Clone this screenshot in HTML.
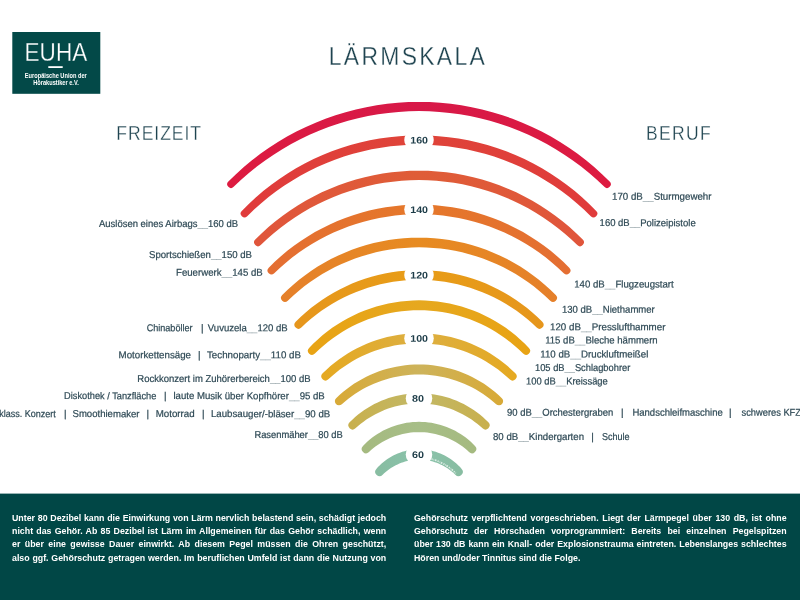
<!DOCTYPE html>
<html lang="de"><head><meta charset="utf-8"><title>Lärmskala</title>
<style>
html,body{margin:0;padding:0;background:#fff;}
body{width:800px;height:600px;overflow:hidden;position:relative;font-family:"Liberation Sans",sans-serif;}
svg{position:absolute;left:0;top:0;display:block;}
svg text{font-family:"Liberation Sans",sans-serif;}
.lb{font-size:10.0px;fill:#2E4955;stroke:#2E4955;stroke-width:0.22px;}
.num{font-size:9.6px;font-weight:bold;fill:#1D3C48;text-anchor:middle;}
.hd{fill:#1F4450;}
.para{position:absolute;top:510.9px;color:#fff;font-weight:bold;font-size:9.8px;line-height:13.25px;transform-origin:0 0;white-space:nowrap;}
.para div{text-align:justify;text-align-last:justify;}
.para div.last{text-align-last:left;}
</style></head><body>
<svg width="800" height="600" viewBox="0 0 800 600">
<defs>
<linearGradient id="g0" gradientUnits="userSpaceOnUse" x1="231.0" y1="184.2" x2="607.0" y2="184.2"><stop offset="0" stop-color="#DD1B40"/><stop offset="0.5" stop-color="#D71848"/><stop offset="1" stop-color="#DD1B40"/></linearGradient>
<linearGradient id="g1" gradientUnits="userSpaceOnUse" x1="244.5" y1="213.6" x2="593.5" y2="213.6"><stop offset="0" stop-color="#E03B3B"/><stop offset="0.5" stop-color="#DF4439"/><stop offset="1" stop-color="#E03B3B"/></linearGradient>
<linearGradient id="g2" gradientUnits="userSpaceOnUse" x1="258.0" y1="242.3" x2="580.0" y2="242.3"><stop offset="0" stop-color="#E0553B"/><stop offset="0.5" stop-color="#DF5D37"/><stop offset="1" stop-color="#E0553B"/></linearGradient>
<linearGradient id="g3" gradientUnits="userSpaceOnUse" x1="271.5" y1="270.4" x2="566.5" y2="270.4"><stop offset="0" stop-color="#E46E32"/><stop offset="0.5" stop-color="#E5782A"/><stop offset="1" stop-color="#E46E32"/></linearGradient>
<linearGradient id="g4" gradientUnits="userSpaceOnUse" x1="285.0" y1="297.9" x2="553.0" y2="297.9"><stop offset="0" stop-color="#E5802A"/><stop offset="0.5" stop-color="#E78B21"/><stop offset="1" stop-color="#E5802A"/></linearGradient>
<linearGradient id="g5" gradientUnits="userSpaceOnUse" x1="298.5" y1="324.7" x2="539.5" y2="324.7"><stop offset="0" stop-color="#E6961C"/><stop offset="0.5" stop-color="#E89D17"/><stop offset="1" stop-color="#E6961C"/></linearGradient>
<linearGradient id="g6" gradientUnits="userSpaceOnUse" x1="312.0" y1="350.8" x2="526.0" y2="350.8"><stop offset="0" stop-color="#E8A314"/><stop offset="0.5" stop-color="#E6A81F"/><stop offset="1" stop-color="#E8A314"/></linearGradient>
<linearGradient id="g7" gradientUnits="userSpaceOnUse" x1="325.5" y1="376.3" x2="512.5" y2="376.3"><stop offset="0" stop-color="#E5A922"/><stop offset="0.5" stop-color="#DCAF42"/><stop offset="1" stop-color="#E5A922"/></linearGradient>
<linearGradient id="g8" gradientUnits="userSpaceOnUse" x1="339.0" y1="401.2" x2="499.0" y2="401.2"><stop offset="0" stop-color="#D8AA38"/><stop offset="0.5" stop-color="#CDB35B"/><stop offset="1" stop-color="#D8AA38"/></linearGradient>
<linearGradient id="g9" gradientUnits="userSpaceOnUse" x1="352.5" y1="425.4" x2="485.5" y2="425.4"><stop offset="0" stop-color="#C8B04E"/><stop offset="0.5" stop-color="#C2B866"/><stop offset="1" stop-color="#C8B04E"/></linearGradient>
<linearGradient id="g10" gradientUnits="userSpaceOnUse" x1="366.0" y1="448.9" x2="472.0" y2="448.9"><stop offset="0" stop-color="#A5BA80"/><stop offset="0.5" stop-color="#A7BE88"/><stop offset="1" stop-color="#A5BA80"/></linearGradient>
<linearGradient id="g11" gradientUnits="userSpaceOnUse" x1="379.5" y1="471.8" x2="458.5" y2="471.8"><stop offset="0" stop-color="#88BDA2"/><stop offset="0.5" stop-color="#8AC3AB"/><stop offset="1" stop-color="#88BDA2"/></linearGradient>
</defs>
<rect x="0" y="493.6" width="800" height="106.4" fill="#014746"/>
<path d="M228.35 181.53L235.94 174.15L243.81 167.07L251.96 160.30L260.37 153.87L269.03 147.77L277.93 142.01L287.06 136.61L296.39 131.58L305.91 126.91L315.62 122.63L325.48 118.74L335.50 115.23L345.64 112.13L355.91 109.43L366.27 107.14L376.71 105.25L387.23 103.79L397.79 102.74L408.39 102.11L419.00 101.90L429.61 102.11L440.21 102.74L450.77 103.79L461.29 105.25L471.73 107.14L482.09 109.43L492.36 112.13L502.50 115.23L512.52 118.74L522.38 122.63L532.09 126.91L541.61 131.58L550.94 136.61L560.07 142.01L568.97 147.77L577.63 153.87L586.04 160.30L594.19 167.07L602.06 174.15L609.65 181.53A3.75 3.75 0 0 1 604.35 186.84L596.87 179.78L589.12 173.02L581.11 166.57L572.87 160.44L564.39 154.63L555.70 149.15L546.81 144.02L537.72 139.23L528.46 134.81L519.03 130.74L509.46 127.05L499.75 123.73L489.92 120.78L479.99 118.23L469.96 116.06L459.86 114.27L449.70 112.89L439.49 111.89L429.25 111.30L419.00 111.10L408.75 111.30L398.51 111.89L388.30 112.89L378.14 114.27L368.04 116.06L358.01 118.23L348.08 120.78L338.25 123.73L328.54 127.05L318.97 130.74L309.54 134.81L300.28 139.23L291.19 144.02L282.30 149.15L273.61 154.63L265.13 160.44L256.89 166.57L248.88 173.02L241.13 179.78L233.65 186.84A3.75 3.75 0 0 1 228.35 181.53Z" fill="url(#g0)"/>
<path d="M241.78 210.92L248.76 203.93L256.01 197.22L263.53 190.81L271.31 184.71L279.33 178.92L287.58 173.46L296.04 168.33L304.71 163.55L313.56 159.12L322.59 155.05L331.77 151.35L341.10 148.02L350.55 145.07L360.12 142.50L369.79 140.32L379.53 138.54L389.34 137.14L399.20 136.14L409.09 135.55L419.00 135.35L428.91 135.55L438.80 136.14L448.66 137.14L458.47 138.54L468.21 140.32L477.88 142.50L487.45 145.07L496.90 148.02L506.23 151.35L515.41 155.05L524.44 159.12L533.29 163.55L541.96 168.33L550.42 173.46L558.67 178.92L566.69 184.71L574.47 190.81L581.99 197.22L589.24 203.93L596.22 210.92A3.80 3.80 0 0 1 590.78 216.23L583.90 209.57L576.77 203.19L569.40 197.10L561.79 191.30L553.97 185.82L545.93 180.64L537.70 175.79L529.29 171.27L520.70 167.08L511.96 163.24L503.08 159.74L494.07 156.60L484.94 153.82L475.71 151.40L466.39 149.34L457.00 147.66L447.55 146.35L438.06 145.41L428.54 144.84L419.00 144.65L409.46 144.84L399.94 145.41L390.45 146.35L381.00 147.66L371.61 149.34L362.29 151.40L353.06 153.82L343.93 156.60L334.92 159.74L326.04 163.24L317.30 167.08L308.71 171.27L300.30 175.79L292.07 180.64L284.03 185.82L276.21 191.30L268.60 197.10L261.23 203.19L254.10 209.57L247.22 216.23A3.80 3.80 0 0 1 241.78 210.92Z" fill="url(#g1)"/>
<rect x="404.25" y="131.50" width="29.50" height="17" rx="7" ry="8.5" fill="#fff"/>
<text class="num" transform="translate(419.10 143.50) rotate(0.04)" textLength="17.8" lengthAdjust="spacingAndGlyphs">160</text>
<path d="M255.27 239.60L261.76 233.22L268.50 227.10L275.47 221.25L282.68 215.68L290.11 210.40L297.74 205.42L305.57 200.75L313.58 196.39L321.76 192.35L330.10 188.65L338.58 185.27L347.18 182.24L355.91 179.55L364.73 177.21L373.64 175.23L382.63 173.60L391.67 172.33L400.75 171.42L409.87 170.87L419.00 170.69L428.13 170.87L437.25 171.42L446.33 172.33L455.37 173.60L464.36 175.23L473.27 177.21L482.09 179.55L490.82 182.24L499.42 185.27L507.90 188.65L516.24 192.35L524.42 196.39L532.43 200.75L540.26 205.42L547.89 210.40L555.32 215.68L562.53 221.25L569.50 227.10L576.24 233.22L582.73 239.60A3.85 3.85 0 0 1 577.27 245.04L570.89 238.99L564.28 233.19L557.45 227.66L550.41 222.40L543.18 217.42L535.76 212.73L528.17 208.33L520.41 204.23L512.50 200.43L504.45 196.95L496.28 193.78L487.98 190.93L479.59 188.41L471.10 186.22L462.54 184.36L453.91 182.83L445.23 181.64L436.51 180.79L427.76 180.28L419.00 180.11L410.24 180.28L401.49 180.79L392.77 181.64L384.09 182.83L375.46 184.36L366.90 186.22L358.41 188.41L350.02 190.93L341.72 193.78L333.55 196.95L325.50 200.43L317.59 204.23L309.83 208.33L302.24 212.73L294.82 217.42L287.59 222.40L280.55 227.66L273.72 233.19L267.11 238.99L260.73 245.04A3.85 3.85 0 0 1 255.27 239.60Z" fill="url(#g2)"/>
<path d="M268.74 267.65L274.71 261.82L280.90 256.22L287.31 250.87L293.93 245.78L300.75 240.95L307.76 236.39L314.94 232.12L322.30 228.14L329.80 224.44L337.45 221.05L345.23 217.97L353.13 215.20L361.13 212.74L369.22 210.60L377.40 208.78L385.64 207.29L393.93 206.13L402.27 205.30L410.63 204.80L419.00 204.64L427.37 204.80L435.73 205.30L444.07 206.13L452.36 207.29L460.60 208.78L468.78 210.60L476.87 212.74L484.87 215.20L492.77 217.97L500.55 221.05L508.20 224.44L515.70 228.14L523.06 232.12L530.24 236.39L537.25 240.95L544.07 245.78L550.69 250.87L557.10 256.22L563.29 261.82L569.26 267.65A3.90 3.90 0 0 1 563.74 273.18L557.89 267.67L551.83 262.40L545.57 257.37L539.13 252.59L532.50 248.06L525.71 243.80L518.76 239.80L511.67 236.07L504.43 232.62L497.07 229.46L489.60 226.58L482.02 223.99L474.35 221.70L466.59 219.71L458.77 218.02L450.88 216.64L442.95 215.56L434.99 214.78L427.00 214.32L419.00 214.16L411.00 214.32L403.01 214.78L395.05 215.56L387.12 216.64L379.23 218.02L371.41 219.71L363.65 221.70L355.98 223.99L348.40 226.58L340.93 229.46L333.57 232.62L326.33 236.07L319.24 239.80L312.29 243.80L305.50 248.06L298.87 252.59L292.43 257.37L286.17 262.40L280.11 267.67L274.26 273.18A3.90 3.90 0 0 1 268.74 267.65Z" fill="url(#g3)"/>
<rect x="404.25" y="200.90" width="29.50" height="17" rx="7" ry="8.5" fill="#fff"/>
<text class="num" transform="translate(419.10 212.90) rotate(0.04)" textLength="17.8" lengthAdjust="spacingAndGlyphs">140</text>
<path d="M282.21 295.06L287.64 289.75L293.27 284.65L299.11 279.78L305.13 275.14L311.34 270.75L317.72 266.60L324.26 262.71L330.95 259.08L337.79 255.72L344.75 252.63L351.83 249.82L359.02 247.30L366.31 245.06L373.68 243.11L381.12 241.46L388.62 240.10L396.17 239.04L403.76 238.29L411.38 237.83L419.00 237.68L426.62 237.83L434.24 238.29L441.83 239.04L449.38 240.10L456.88 241.46L464.32 243.11L471.69 245.06L478.98 247.30L486.17 249.82L493.25 252.63L500.21 255.72L507.05 259.08L513.74 262.71L520.28 266.60L526.66 270.75L532.87 275.14L538.89 279.78L544.73 284.65L550.36 289.75L555.79 295.06A3.95 3.95 0 0 1 550.21 300.66L544.90 295.68L539.39 290.92L533.71 286.37L527.87 282.05L521.86 277.95L515.70 274.10L509.40 270.48L502.96 267.12L496.41 264.00L489.74 261.14L482.96 258.54L476.09 256.20L469.14 254.13L462.11 252.33L455.03 250.80L447.88 249.55L440.70 248.58L433.48 247.88L426.25 247.46L419.00 247.32L411.75 247.46L404.52 247.88L397.30 248.58L390.12 249.55L382.97 250.80L375.89 252.33L368.86 254.13L361.91 256.20L355.04 258.54L348.26 261.14L341.59 264.00L335.04 267.12L328.60 270.48L322.30 274.10L316.14 277.95L310.13 282.05L304.29 286.37L298.61 290.92L293.10 295.68L287.79 300.66A3.95 3.95 0 0 1 282.21 295.06Z" fill="url(#g4)"/>
<path d="M295.68 321.82L300.57 317.03L305.65 312.44L310.91 308.05L316.34 303.88L321.94 299.92L327.69 296.18L333.59 292.68L339.62 289.41L345.78 286.38L352.06 283.60L358.45 281.07L364.93 278.79L371.50 276.77L378.14 275.02L384.85 273.53L391.61 272.31L398.42 271.35L405.26 270.67L412.13 270.26L419.00 270.13L425.87 270.26L432.74 270.67L439.58 271.35L446.39 272.31L453.15 273.53L459.86 275.02L466.50 276.77L473.07 278.79L479.55 281.07L485.94 283.60L492.22 286.38L498.38 289.41L504.41 292.68L510.31 296.18L516.06 299.92L521.66 303.88L527.09 308.05L532.35 312.44L537.43 317.03L542.32 321.82A4.00 4.00 0 0 1 536.68 327.50L531.90 323.05L526.96 318.79L521.86 314.73L516.60 310.87L511.21 307.22L505.68 303.77L500.03 300.55L494.26 297.54L488.37 294.76L482.39 292.20L476.32 289.88L470.16 287.80L463.93 285.95L457.63 284.35L451.28 282.98L444.88 281.87L438.44 280.99L431.98 280.37L425.49 280.00L419.00 279.87L412.51 280.00L406.02 280.37L399.56 280.99L393.12 281.87L386.72 282.98L380.37 284.35L374.07 285.95L367.84 287.80L361.68 289.88L355.61 292.20L349.63 294.76L343.74 297.54L337.97 300.55L332.32 303.77L326.79 307.22L321.40 310.87L316.14 314.73L311.04 318.79L306.10 323.05L301.32 327.50A4.00 4.00 0 0 1 295.68 321.82Z" fill="url(#g5)"/>
<rect x="404.25" y="266.50" width="29.50" height="17" rx="7" ry="8.5" fill="#fff"/>
<text class="num" transform="translate(419.10 278.50) rotate(0.04)" textLength="17.8" lengthAdjust="spacingAndGlyphs">120</text>
<path d="M309.08 348.00L313.37 343.60L317.83 339.39L322.47 335.35L327.26 331.51L332.22 327.86L337.32 324.42L342.56 321.19L347.93 318.18L353.42 315.38L359.02 312.82L364.72 310.48L370.52 308.38L376.40 306.52L382.35 304.89L388.36 303.52L394.43 302.39L400.53 301.51L406.67 300.88L412.83 300.50L419.00 300.37L425.17 300.50L431.33 300.88L437.47 301.51L443.57 302.39L449.64 303.52L455.65 304.89L461.60 306.52L467.48 308.38L473.28 310.48L478.98 312.82L484.58 315.38L490.07 318.18L495.44 321.19L500.68 324.42L505.78 327.86L510.74 331.51L515.53 335.35L520.17 339.39L524.63 343.60L528.92 348.00A4.05 4.05 0 0 1 523.08 353.62L518.91 349.58L514.58 345.70L510.11 342.01L505.50 338.49L500.75 335.17L495.88 332.03L490.89 329.09L485.79 326.35L480.59 323.81L475.30 321.48L469.91 319.36L464.45 317.46L458.93 315.78L453.34 314.31L447.69 313.07L442.01 312.05L436.29 311.25L430.54 310.68L424.77 310.34L419.00 310.23L413.23 310.34L407.46 310.68L401.71 311.25L395.99 312.05L390.31 313.07L384.66 314.31L379.07 315.78L373.55 317.46L368.09 319.36L362.70 321.48L357.41 323.81L352.21 326.35L347.11 329.09L342.12 332.03L337.25 335.17L332.50 338.49L327.89 342.01L323.42 345.70L319.09 349.58L314.92 353.62A4.05 4.05 0 0 1 309.08 348.00Z" fill="url(#g6)"/>
<path d="M322.64 373.37L326.47 369.66L330.45 366.10L334.57 362.70L338.82 359.47L343.20 356.40L347.70 353.50L352.31 350.79L357.02 348.26L361.84 345.91L366.74 343.75L371.73 341.79L376.79 340.03L381.92 338.47L387.11 337.11L392.34 335.95L397.62 335.01L402.94 334.27L408.28 333.74L413.63 333.42L419.00 333.32L424.37 333.42L429.72 333.74L435.06 334.27L440.38 335.01L445.66 335.95L450.89 337.11L456.08 338.47L461.21 340.03L466.27 341.79L471.26 343.75L476.16 345.91L480.98 348.26L485.69 350.79L490.30 353.50L494.80 356.40L499.18 359.47L503.43 362.70L507.55 366.10L511.53 369.66L515.36 373.37A4.10 4.10 0 0 1 509.64 379.25L505.92 375.88L502.08 372.66L498.13 369.59L494.06 366.67L489.89 363.91L485.62 361.31L481.26 358.87L476.81 356.60L472.28 354.50L467.67 352.58L463.00 350.83L458.27 349.25L453.48 347.86L448.64 346.65L443.76 345.62L438.85 344.78L433.91 344.13L428.95 343.66L423.98 343.38L419.00 343.28L414.02 343.38L409.05 343.66L404.09 344.13L399.15 344.78L394.24 345.62L389.36 346.65L384.52 347.86L379.73 349.25L375.00 350.83L370.33 352.58L365.72 354.50L361.19 356.60L356.74 358.87L352.38 361.31L348.11 363.91L343.94 366.67L339.87 369.59L335.92 372.66L332.08 375.88L328.36 379.25A4.10 4.10 0 0 1 322.64 373.37Z" fill="url(#g7)"/>
<rect x="404.25" y="329.80" width="29.50" height="17" rx="7" ry="8.5" fill="#fff"/>
<text class="num" transform="translate(419.10 341.80) rotate(0.04)" textLength="17.8" lengthAdjust="spacingAndGlyphs">100</text>
<path d="M336.16 398.13L339.49 395.01L342.94 392.02L346.50 389.15L350.17 386.43L353.95 383.85L357.83 381.42L361.80 379.14L365.86 377.01L370.00 375.04L374.21 373.23L378.49 371.58L382.84 370.10L387.23 368.79L391.68 367.65L396.17 366.68L400.69 365.88L405.25 365.26L409.82 364.82L414.41 364.55L419.00 364.46L423.59 364.55L428.18 364.82L432.75 365.26L437.31 365.88L441.83 366.68L446.32 367.65L450.77 368.79L455.16 370.10L459.51 371.58L463.79 373.23L468.00 375.04L472.14 377.01L476.20 379.14L480.17 381.42L484.05 383.85L487.83 386.43L491.50 389.15L495.06 392.02L498.51 395.01L501.84 398.13A4.15 4.15 0 0 1 496.16 404.19L492.95 401.40L489.64 398.74L486.25 396.20L482.76 393.79L479.19 391.52L475.54 389.37L471.81 387.36L468.02 385.49L464.16 383.77L460.25 382.18L456.28 380.74L452.26 379.45L448.20 378.30L444.10 377.31L439.96 376.46L435.80 375.77L431.62 375.23L427.42 374.85L423.21 374.61L419.00 374.54L414.79 374.61L410.58 374.85L406.38 375.23L402.20 375.77L398.04 376.46L393.90 377.31L389.80 378.30L385.74 379.45L381.72 380.74L377.75 382.18L373.84 383.77L369.98 385.49L366.19 387.36L362.46 389.37L358.81 391.52L355.24 393.79L351.75 396.20L348.36 398.74L345.05 401.40L341.84 404.19A4.15 4.15 0 0 1 336.16 398.13Z" fill="url(#g8)"/>
<path d="M349.57 422.36L352.31 419.66L355.16 417.08L358.12 414.61L361.17 412.25L364.32 410.02L367.55 407.92L370.87 405.94L374.26 404.09L377.73 402.39L381.27 400.82L384.86 399.39L388.52 398.10L392.22 396.96L395.96 395.97L399.74 395.13L403.56 394.44L407.40 393.90L411.25 393.52L415.12 393.29L419.00 393.21L422.88 393.29L426.75 393.52L430.60 393.90L434.44 394.44L438.26 395.13L442.04 395.97L445.78 396.96L449.48 398.10L453.14 399.39L456.73 400.82L460.27 402.39L463.74 404.09L467.13 405.94L470.45 407.92L473.68 410.02L476.83 412.25L479.88 414.61L482.84 417.08L485.69 419.66L488.43 422.36A4.20 4.20 0 0 1 482.57 428.37L479.94 426.03L477.24 423.79L474.45 421.65L471.59 419.62L468.66 417.70L465.66 415.89L462.59 414.20L459.47 412.63L456.29 411.17L453.06 409.83L449.79 408.62L446.47 407.53L443.12 406.56L439.74 405.73L436.32 405.01L432.89 404.43L429.43 403.98L425.96 403.65L422.48 403.46L419.00 403.39L415.52 403.46L412.04 403.65L408.57 403.98L405.11 404.43L401.68 405.01L398.26 405.73L394.88 406.56L391.53 407.53L388.21 408.62L384.94 409.83L381.71 411.17L378.53 412.63L375.41 414.20L372.34 415.89L369.34 417.70L366.41 419.62L363.55 421.65L360.76 423.79L358.06 426.03L355.43 428.37A4.20 4.20 0 0 1 349.57 422.36Z" fill="url(#g9)"/>
<rect x="405.75" y="389.80" width="26.50" height="17" rx="7" ry="8.5" fill="#fff"/>
<text class="num" transform="translate(418.10 401.80) rotate(0.04)" textLength="12.0" lengthAdjust="spacingAndGlyphs">80</text>
<path d="M363.00 445.91L365.18 443.69L367.46 441.56L369.82 439.53L372.26 437.59L374.79 435.75L377.39 434.01L380.06 432.38L382.79 430.86L385.59 429.45L388.44 428.15L391.35 426.97L394.30 425.90L397.30 424.96L400.33 424.14L403.39 423.45L406.48 422.87L409.59 422.43L412.72 422.11L415.86 421.92L419.00 421.85L422.14 421.92L425.28 422.11L428.41 422.43L431.52 422.87L434.61 423.45L437.67 424.14L440.70 424.96L443.70 425.90L446.65 426.97L449.56 428.15L452.41 429.45L455.21 430.86L457.94 432.38L460.61 434.01L463.21 435.75L465.74 437.59L468.18 439.53L470.54 441.56L472.82 443.69L475.00 445.91A4.25 4.25 0 0 1 469.00 451.93L466.94 450.07L464.81 448.29L462.62 446.60L460.37 444.99L458.06 443.47L455.70 442.04L453.29 440.70L450.83 439.45L448.34 438.30L445.80 437.24L443.22 436.28L440.61 435.42L437.97 434.66L435.31 433.99L432.63 433.43L429.92 432.97L427.21 432.61L424.48 432.35L421.74 432.20L419.00 432.15L416.26 432.20L413.52 432.35L410.79 432.61L408.08 432.97L405.37 433.43L402.69 433.99L400.03 434.66L397.39 435.42L394.78 436.28L392.20 437.24L389.66 438.30L387.17 439.45L384.71 440.70L382.30 442.04L379.94 443.47L377.63 444.99L375.38 446.60L373.19 448.29L371.06 450.07L369.00 451.93A4.25 4.25 0 0 1 363.00 445.91Z" fill="url(#g10)"/>
<path d="M376.34 468.91L377.93 467.12L379.61 465.40L381.36 463.75L383.18 462.17L385.08 460.67L387.03 459.26L389.05 457.93L391.13 456.68L393.26 455.53L395.44 454.47L397.66 453.50L399.93 452.63L402.23 451.85L404.56 451.18L406.93 450.61L409.31 450.14L411.72 449.77L414.14 449.51L416.57 449.35L419.00 449.30L421.43 449.35L423.86 449.51L426.28 449.77L428.69 450.14L431.07 450.61L433.44 451.18L435.77 451.85L438.07 452.63L440.34 453.50L442.56 454.47L444.74 455.53L446.87 456.68L448.95 457.93L450.97 459.26L452.92 460.67L454.82 462.17L456.64 463.75L458.39 465.40L460.07 467.12L461.66 468.91A4.30 4.30 0 0 1 455.34 474.74L453.86 473.33L452.33 471.98L450.76 470.69L449.14 469.47L447.47 468.31L445.76 467.23L444.02 466.21L442.23 465.26L440.42 464.38L438.57 463.58L436.69 462.85L434.79 462.19L432.87 461.61L430.92 461.11L428.96 460.68L426.99 460.33L425.00 460.05L423.00 459.86L421.00 459.74L419.00 459.70L417.00 459.74L415.00 459.86L413.00 460.05L411.01 460.33L409.04 460.68L407.08 461.11L405.13 461.61L403.21 462.19L401.31 462.85L399.43 463.58L397.58 464.38L395.77 465.26L393.98 466.21L392.24 467.23L390.53 468.31L388.86 469.47L387.24 470.69L385.67 471.98L384.14 473.33L382.66 474.74A4.30 4.30 0 0 1 376.34 468.91Z" fill="url(#g11)"/>
<path d="M431.44 459.05 A50.69 50.69 0 0 1 455.72 473.24" fill="none" stroke="#fff" stroke-opacity="0.7" stroke-width="1.7" stroke-dasharray="1.3 0.9 0.6 0.7 1.8 1.1"/>
<rect x="405.75" y="446.00" width="26.50" height="17" rx="7" ry="8.5" fill="#fff"/>
<text class="num" transform="translate(418.10 458.00) rotate(0.04)" textLength="12.0" lengthAdjust="spacingAndGlyphs">60</text>
<rect x="12.3" y="32" width="88" height="61.8" fill="#034948"/>
<text x="24.6" y="60.8" font-size="25" fill="#fff" textLength="62.6" lengthAdjust="spacingAndGlyphs" stroke="#034948" stroke-width="0.3">EUHA</text>
<rect x="48.3" y="66.2" width="14.4" height="1.8" fill="#fff"/>
<text x="55.8" y="77.7" font-size="6.8" font-weight="bold" fill="#fff" text-anchor="middle" textLength="62" lengthAdjust="spacingAndGlyphs">Europäische Union der</text>
<text x="56" y="84.6" font-size="6.8" font-weight="bold" fill="#fff" text-anchor="middle" textLength="45.5" lengthAdjust="spacingAndGlyphs">Hörakustiker e.V.</text>
<text class="hd" transform="translate(328.80 65.40) scale(0.900 1)" font-size="25.5" textLength="173.3" lengthAdjust="spacing" stroke="#fff" stroke-width="0.30">LÄRMSKALA</text>
<text class="hd" transform="translate(116.30 140.10) scale(0.900 1)" font-size="19.5" textLength="94.2" lengthAdjust="spacing" stroke="#fff" stroke-width="0.30">FREIZEIT</text>
<text class="hd" transform="translate(646.10 140.10) scale(0.900 1)" font-size="19.5" textLength="71.8" lengthAdjust="spacing" stroke="#fff" stroke-width="0.30">BERUF</text>
<text class="lb" transform="translate(99.0 226.9) rotate(0.04)" textLength="139.0" lengthAdjust="spacingAndGlyphs">Auslösen eines Airbags<tspan fill-opacity="0.45" stroke="none">__</tspan>160 dB</text>
<text class="lb" transform="translate(149.0 257.9) rotate(0.04)" textLength="103.0" lengthAdjust="spacingAndGlyphs">Sportschießen<tspan fill-opacity="0.45" stroke="none">__</tspan>150 dB</text>
<text class="lb" transform="translate(176.0 275.7) rotate(0.04)" textLength="86.8" lengthAdjust="spacingAndGlyphs">Feuerwerk<tspan fill-opacity="0.45" stroke="none">__</tspan>145 dB</text>
<text class="lb" transform="translate(146.7 331.2) rotate(0.04)" textLength="45.8" lengthAdjust="spacingAndGlyphs">Chinaböller</text>
<text class="lb" transform="translate(202.2 331.2) rotate(0.04)" text-anchor="middle">|</text>
<text class="lb" transform="translate(207.8 331.2) rotate(0.04)" textLength="79.9" lengthAdjust="spacingAndGlyphs">Vuvuzela<tspan fill-opacity="0.45" stroke="none">__</tspan>120 dB</text>
<text class="lb" transform="translate(118.6 358.2) rotate(0.04)" textLength="72.4" lengthAdjust="spacingAndGlyphs">Motorkettensäge</text>
<text class="lb" transform="translate(199.3 358.2) rotate(0.04)" text-anchor="middle">|</text>
<text class="lb" transform="translate(207.0 358.2) rotate(0.04)" textLength="94.0" lengthAdjust="spacingAndGlyphs">Technoparty<tspan fill-opacity="0.45" stroke="none">__</tspan>110 dB</text>
<text class="lb" transform="translate(137.3 382.0) rotate(0.04)" textLength="173.3" lengthAdjust="spacingAndGlyphs">Rockkonzert im Zuhörerbereich<tspan fill-opacity="0.45" stroke="none">__</tspan>100 dB</text>
<text class="lb" transform="translate(64.1 399.1) rotate(0.04)" textLength="92.3" lengthAdjust="spacingAndGlyphs">Diskothek / Tanzfläche</text>
<text class="lb" transform="translate(165.4 399.1) rotate(0.04)" text-anchor="middle">|</text>
<text class="lb" transform="translate(173.4 399.1) rotate(0.04)" textLength="151.4" lengthAdjust="spacingAndGlyphs">laute Musik über Kopfhörer<tspan fill-opacity="0.45" stroke="none">__</tspan>95 dB</text>
<text class="lb" transform="translate(-0.8 417.1) rotate(0.04)" textLength="56.6" lengthAdjust="spacingAndGlyphs">klass. Konzert</text>
<text class="lb" transform="translate(65.2 417.1) rotate(0.04)" text-anchor="middle">|</text>
<text class="lb" transform="translate(72.5 417.1) rotate(0.04)" textLength="67.0" lengthAdjust="spacingAndGlyphs">Smoothiemaker</text>
<text class="lb" transform="translate(147.8 417.1) rotate(0.04)" text-anchor="middle">|</text>
<text class="lb" transform="translate(155.7 417.1) rotate(0.04)" textLength="39.0" lengthAdjust="spacingAndGlyphs">Motorrad</text>
<text class="lb" transform="translate(203.3 417.1) rotate(0.04)" text-anchor="middle">|</text>
<text class="lb" transform="translate(211.0 417.1) rotate(0.04)" textLength="119.2" lengthAdjust="spacingAndGlyphs">Laubsauger/-bläser<tspan fill-opacity="0.45" stroke="none">__</tspan>90 dB</text>
<text class="lb" transform="translate(254.4 438.0) rotate(0.04)" textLength="88.4" lengthAdjust="spacingAndGlyphs">Rasenmäher<tspan fill-opacity="0.45" stroke="none">__</tspan>80 dB</text>
<text class="lb" transform="translate(612.0 199.8) rotate(0.04)" textLength="99.5" lengthAdjust="spacingAndGlyphs">170 dB<tspan fill-opacity="0.45" stroke="none">__</tspan>Sturmgewehr</text>
<text class="lb" transform="translate(599.6 226.1) rotate(0.04)" textLength="96.1" lengthAdjust="spacingAndGlyphs">160 dB<tspan fill-opacity="0.45" stroke="none">__</tspan>Polizeipistole</text>
<text class="lb" transform="translate(574.2 287.5) rotate(0.04)" textLength="99.5" lengthAdjust="spacingAndGlyphs">140 dB<tspan fill-opacity="0.45" stroke="none">__</tspan>Flugzeugstart</text>
<text class="lb" transform="translate(561.9 312.8) rotate(0.04)" textLength="92.9" lengthAdjust="spacingAndGlyphs">130 dB<tspan fill-opacity="0.45" stroke="none">__</tspan>Niethammer</text>
<text class="lb" transform="translate(550.0 330.3) rotate(0.04)" textLength="115.4" lengthAdjust="spacingAndGlyphs">120 dB<tspan fill-opacity="0.45" stroke="none">__</tspan>Presslufthammer</text>
<text class="lb" transform="translate(545.2 343.5) rotate(0.04)" textLength="112.5" lengthAdjust="spacingAndGlyphs">115 dB<tspan fill-opacity="0.45" stroke="none">__</tspan>Bleche hämmern</text>
<text class="lb" transform="translate(540.3 357.5) rotate(0.04)" textLength="108.0" lengthAdjust="spacingAndGlyphs">110 dB<tspan fill-opacity="0.45" stroke="none">__</tspan>Druckluftmeißel</text>
<text class="lb" transform="translate(535.0 371.0) rotate(0.04)" textLength="95.3" lengthAdjust="spacingAndGlyphs">105 dB<tspan fill-opacity="0.45" stroke="none">__</tspan>Schlagbohrer</text>
<text class="lb" transform="translate(526.0 384.5) rotate(0.04)" textLength="81.8" lengthAdjust="spacingAndGlyphs">100 dB<tspan fill-opacity="0.45" stroke="none">__</tspan>Kreissäge</text>
<text class="lb" transform="translate(507.0 415.7) rotate(0.04)" textLength="106.4" lengthAdjust="spacingAndGlyphs">90 dB<tspan fill-opacity="0.45" stroke="none">__</tspan>Orchestergraben</text>
<text class="lb" transform="translate(622.4 415.7) rotate(0.04)" text-anchor="middle">|</text>
<text class="lb" transform="translate(632.4 415.7) rotate(0.04)" textLength="90.4" lengthAdjust="spacingAndGlyphs">Handschleifmaschine</text>
<text class="lb" transform="translate(730.2 415.7) rotate(0.04)" text-anchor="middle">|</text>
<text class="lb" transform="translate(741.5 415.7) rotate(0.04)" textLength="59.5" lengthAdjust="spacingAndGlyphs">schweres KFZ</text>
<text class="lb" transform="translate(493.0 440.0) rotate(0.04)" textLength="91.0" lengthAdjust="spacingAndGlyphs">80 dB<tspan fill-opacity="0.45" stroke="none">__</tspan>Kindergarten</text>
<text class="lb" transform="translate(592.5 440.0) rotate(0.04)" text-anchor="middle">|</text>
<text class="lb" transform="translate(602.0 440.0) rotate(0.04)" textLength="27.6" lengthAdjust="spacingAndGlyphs">Schule</text>
</svg>
<div class="para" style="left:11.8px;width:415.8px;transform:scaleX(0.900);"><div>Unter 80 Dezibel kann die Einwirkung von Lärm nervlich belastend sein, schädigt jedoch</div><div>nicht das Gehör. Ab 85 Dezibel ist Lärm im Allgemeinen für das Gehör schädlich, wenn</div><div>er über eine gewisse Dauer einwirkt. Ab diesem Pegel müssen die Ohren geschützt,</div><div>also ggf. Gehörschutz getragen werden. Im beruflichen Umfeld ist dann die Nutzung von</div></div>
<div class="para" style="left:414.0px;width:414.0px;transform:scaleX(0.900);"><div>Gehörschutz verpflichtend vorgeschrieben. Liegt der Lärmpegel über 130 dB, ist ohne</div><div>Gehörschutz der Hörschaden vorprogrammiert: Bereits bei einzelnen Pegelspitzen</div><div>über 130 dB kann ein Knall- oder Explosionstrauma eintreten. Lebenslanges schlechtes</div><div class="last">Hören und/oder Tinnitus sind die Folge.</div></div>
</body></html>
